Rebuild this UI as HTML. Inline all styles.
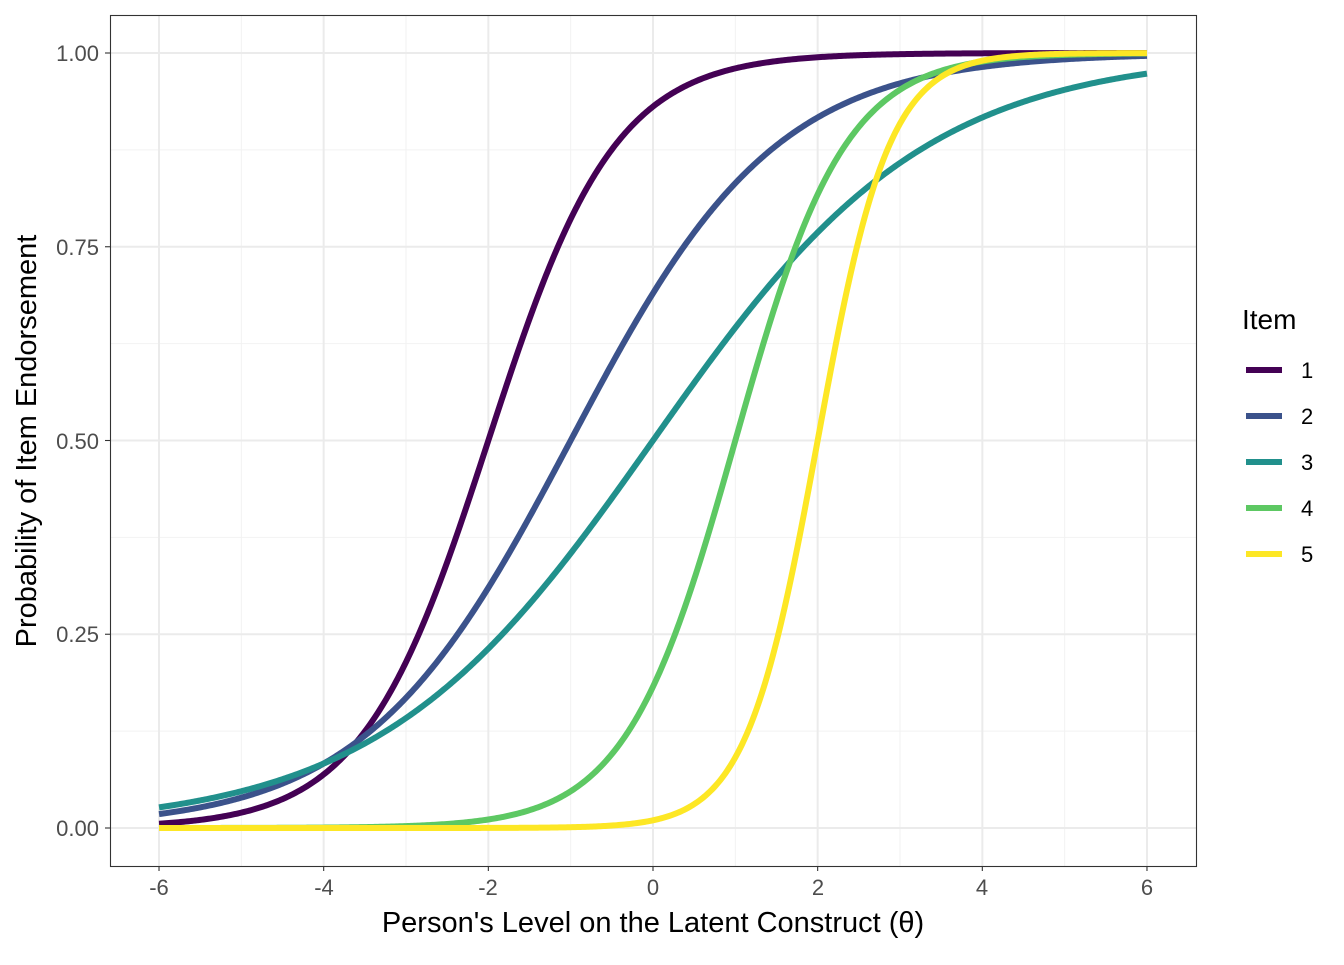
<!DOCTYPE html>
<html><head><meta charset="utf-8"><style>
body{margin:0;background:#fff;}
svg text{font-family:"Liberation Sans",sans-serif;}
</style></head><body>
<svg id="s" width="1344" height="960" xmlns="http://www.w3.org/2000/svg">
<rect width="1344" height="960" fill="#fff"/>
<g id="grid"></g>
<g id="lines" fill="none" stroke-width="6" stroke-linecap="butt"></g>
<rect x="110.5" y="15.5" width="1086" height="851" fill="none" stroke="#333" stroke-width="1.1"/>
<g id="ticks" stroke="#333" stroke-width="1.1"></g>
<g font-size="22" fill="#4d4d4d" text-anchor="end">
<text x="99" y="61">1.00</text><text x="99" y="255">0.75</text><text x="99" y="449">0.50</text><text x="99" y="642">0.25</text><text x="99" y="836">0.00</text>
</g>
<g font-size="22" fill="#4d4d4d" text-anchor="middle">
<text x="159" y="895">-6</text><text x="324" y="895">-4</text><text x="488" y="895">-2</text><text x="653" y="895">0</text><text x="818" y="895">2</text><text x="982" y="895">4</text><text x="1147" y="895">6</text>
</g>
<text x="653" y="932" font-size="29" text-anchor="middle" fill="#000">Person's Level on the Latent Construct (θ)</text>
<text transform="translate(36,441) rotate(-90)" font-size="29" text-anchor="middle" fill="#000">Probability of Item Endorsement</text>
<text x="1242" y="329" font-size="28" fill="#000">Item</text>
<g stroke-width="6">
<line x1="1246" x2="1282" y1="370" y2="370" stroke="#440154"/>
<line x1="1246" x2="1282" y1="416" y2="416" stroke="#3B528B"/>
<line x1="1246" x2="1282" y1="462" y2="462" stroke="#21908C"/>
<line x1="1246" x2="1282" y1="508" y2="508" stroke="#5DC863"/>
<line x1="1246" x2="1282" y1="554" y2="554" stroke="#FDE725"/>
</g>
<g font-size="22" fill="#000">
<text x="1301" y="378">1</text><text x="1301" y="424">2</text><text x="1301" y="470">3</text><text x="1301" y="516">4</text><text x="1301" y="562">5</text>
</g>
</svg>
<script>
var X=function(t){return 653+t*82.33;},Y=function(p){return 828-p*775;};
var g=document.getElementById('grid'),h='';
[-5,-3,-1,1,3,5].forEach(function(t){var x=X(t);h+='<line x1="'+x+'" x2="'+x+'" y1="15" y2="866" stroke="#f2f2f2" stroke-width="1"/>';});
[0.125,0.375,0.625,0.875].forEach(function(p){var y=Y(p);h+='<line x1="110" x2="1196" y1="'+y+'" y2="'+y+'" stroke="#f2f2f2" stroke-width="1"/>';});
for(var t=-6;t<=6;t+=2){var x=X(t);h+='<line x1="'+x+'" x2="'+x+'" y1="15" y2="866" stroke="#ebebeb" stroke-width="2"/>';}
for(var p=0;p<=1;p+=0.25){var y=Y(p);h+='<line x1="110" x2="1196" y1="'+y+'" y2="'+y+'" stroke="#ebebeb" stroke-width="2"/>';}
g.innerHTML=h;
var tk='';
for(var t=-6;t<=6;t+=2){var x=X(t);tk+='<line x1="'+x+'" x2="'+x+'" y1="866" y2="871"/>';}
for(var p=0;p<=1;p+=0.25){var y=Y(p);tk+='<line x1="105" x2="110" y1="'+y+'" y2="'+y+'"/>';}
document.getElementById('ticks').innerHTML=tk;
var items=[[1.3,-2,'#440154'],[0.8,-1,'#3B528B'],[0.6,0,'#21908C'],[1.5,1,'#5DC863'],[2.3,2,'#FDE725']];
var L='';
items.forEach(function(it){var d='';for(var i=0;i<=600;i++){var t=-6+i*0.02;var p=1/(1+Math.exp(-it[0]*(t-it[1])));d+=(i?'L':'M')+X(t).toFixed(2)+' '+Y(p).toFixed(2);}L+='<path d="'+d+'" stroke="'+it[2]+'"/>';});
document.getElementById('lines').innerHTML=L;
</script>
</body></html>
